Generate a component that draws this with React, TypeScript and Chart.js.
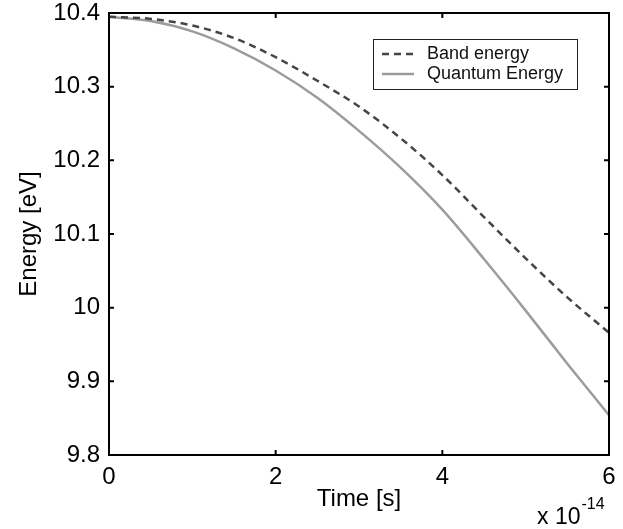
import React, { useEffect, useRef } from 'react';
import { Chart, registerables } from 'chart.js';

Chart.register(...registerables);

// ---- data (time in units of 1e-14 s, energy in eV) ----
const times = [0, 0.5, 1, 1.5, 2, 2.5, 3, 3.5, 4, 4.5, 5, 5.5, 6];
const bandEnergy = [10.395, 10.392, 10.383, 10.366, 10.340, 10.308, 10.273, 10.230, 10.180, 10.123, 10.067, 10.014, 9.966];
const quantumEnergy = [10.395, 10.389, 10.375, 10.352, 10.322, 10.285, 10.240, 10.190, 10.133, 10.066, 9.996, 9.924, 9.854];
const seriesLabels = ['Band energy', 'Quantum Energy'];
const xTickValues = [0, 2, 4, 6];
const yTickValues = [9.8, 9.9, 10, 10.1, 10.2, 10.3, 10.4];
const xTitle = 'Time [s]';
const yTitle = 'Energy [eV]';
const exponentBase = 'x 10';
const exponentPower = '-14';

const FONT = '"Liberation Sans", Arial, Helvetica, sans-serif';
const BAND_COLOR = '#454545';
const QUANTUM_COLOR = '#9c9c9c';

const framePlugin = {
  id: 'matlabFrame',
  afterDraw(chart: any) {
    const { ctx, chartArea } = chart;
    const { left, top, right, bottom } = chartArea;
    const xs = chart.scales.x;
    const ys = chart.scales.y;
    ctx.save();
    // box
    ctx.strokeStyle = '#000';
    ctx.lineWidth = 2;
    ctx.strokeRect(left, top, right - left, bottom - top);
    // inward ticks on all four sides
    const tl = 5;
    ctx.beginPath();
    xTickValues.forEach((v) => {
      const px = xs.getPixelForValue(v);
      ctx.moveTo(px, bottom);
      ctx.lineTo(px, bottom - tl);
      ctx.moveTo(px, top);
      ctx.lineTo(px, top + tl);
    });
    yTickValues.forEach((v) => {
      const py = ys.getPixelForValue(v);
      ctx.moveTo(left, py);
      ctx.lineTo(left + tl, py);
      ctx.moveTo(right, py);
      ctx.lineTo(right - tl, py);
    });
    ctx.stroke();

    // legend box
    const lx = 373, ly = 39, lw = 204, lh = 50;
    ctx.fillStyle = '#fff';
    ctx.fillRect(lx, ly, lw, lh);
    ctx.lineWidth = 1;
    ctx.strokeStyle = '#222';
    ctx.strokeRect(lx + 0.5, ly + 0.5, lw, lh);
    const rows = [
      { y: 54, color: BAND_COLOR, dash: [7, 5] },
      { y: 74, color: QUANTUM_COLOR, dash: [] as number[] },
    ];
    rows.forEach((r, i) => {
      ctx.beginPath();
      ctx.setLineDash(r.dash);
      ctx.strokeStyle = r.color;
      ctx.lineWidth = 2.5;
      ctx.moveTo(382, r.y);
      ctx.lineTo(414, r.y);
      ctx.stroke();
      ctx.setLineDash([]);
      ctx.fillStyle = '#111';
      ctx.font = `18px ${FONT}`;
      ctx.textAlign = 'left';
      ctx.textBaseline = 'middle';
      ctx.fillText(seriesLabels[i], 427, r.y);
    });

    // exponent label
    ctx.fillStyle = '#000';
    ctx.textBaseline = 'alphabetic';
    ctx.font = `23px ${FONT}`;
    ctx.fillText(exponentBase, 537, 524);
    const w = ctx.measureText(exponentBase).width;
    ctx.font = `16px ${FONT}`;
    ctx.fillText(exponentPower, 537 + w + 1, 509);
    ctx.restore();
  },
};

export default function App() {
  const ref = useRef<HTMLCanvasElement | null>(null);

  useEffect(() => {
    if (!ref.current) return;
    const chart = new Chart(ref.current, {
      type: 'line',
      data: {
        datasets: [
          {
            label: seriesLabels[0],
            data: times.map((t, i) => ({ x: t, y: bandEnergy[i] })),
            borderColor: BAND_COLOR,
            borderWidth: 2.5,
            borderDash: [7, 5],
            pointRadius: 0,
            cubicInterpolationMode: 'monotone',
            fill: false,
          },
          {
            label: seriesLabels[1],
            data: times.map((t, i) => ({ x: t, y: quantumEnergy[i] })),
            borderColor: QUANTUM_COLOR,
            borderWidth: 2.5,
            pointRadius: 0,
            cubicInterpolationMode: 'monotone',
            fill: false,
          },
        ],
      },
      options: {
        animation: false,
        responsive: false,
        maintainAspectRatio: false,
        events: [],
        layout: { padding: { left: 0, top: 13, right: 14, bottom: 0 } },
        plugins: {
          legend: { display: false },
          tooltip: { enabled: false },
        },
        scales: {
          x: {
            type: 'linear',
            min: 0,
            max: 6,
            grid: { display: false, drawTicks: false },
            border: { display: false },
            afterBuildTicks: (s: any) => {
              s.ticks = xTickValues.map((v) => ({ value: v }));
            },
            afterFit: (s: any) => {
              s.height = 74;
              s.paddingLeft = 0;
              s.paddingRight = 0;
            },
            ticks: {
              color: '#000',
              padding: 8,
              maxRotation: 0,
              font: { family: FONT, size: 24 },
              callback: (v: any) => String(v),
            },
            title: {
              display: true,
              text: xTitle,
              color: '#000',
              font: { family: FONT, size: 24 },
              padding: { top: 0, bottom: 15 },
            },
          },
          y: {
            type: 'linear',
            min: 9.8,
            max: 10.4,
            grid: { display: false, drawTicks: false },
            border: { display: false },
            afterBuildTicks: (s: any) => {
              s.ticks = yTickValues.map((v) => ({ value: v }));
            },
            afterFit: (s: any) => {
              s.width = 109;
              s.paddingTop = 0;
              s.paddingBottom = 0;
            },
            ticks: {
              color: '#000',
              padding: 9,
              font: { family: FONT, size: 24 },
              callback: (v: any) => String(Number(Number(v).toFixed(1))),
            },
            title: {
              display: true,
              text: yTitle,
              color: '#000',
              font: { family: FONT, size: 24 },
              padding: { top: 15, bottom: 0 },
            },
          },
        },
      },
      plugins: [framePlugin],
    });
    return () => chart.destroy();
  }, []);

  return (
    <div style={{ position: 'fixed', left: 0, top: 0, width: 623, height: 529, background: '#fff' }}>
      <canvas ref={ref} width={623} height={529} />
    </div>
  );
}
